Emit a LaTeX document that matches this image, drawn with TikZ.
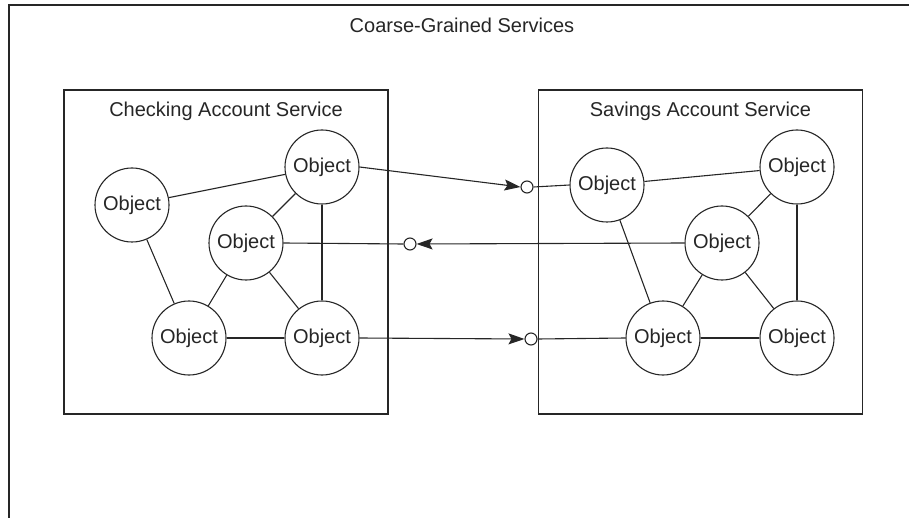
\documentclass[tikz,border=0pt]{standalone}
\usepackage{fontspec}
\setmainfont{Liberation Sans}
\usepackage{tikz}
\usetikzlibrary{arrows.meta,positioning,calc}

\definecolor{ink}{HTML}{262626}

\tikzset{
	obj/.style={circle, draw=ink, line width=1.1pt, minimum size=74pt, inner sep=0pt, text=ink},
	port/.style={circle, draw=ink, line width=1.1pt, fill=white, minimum size=12pt, inner sep=0pt},
	svcbox/.style={draw=ink, line width=1.1pt, minimum width=324pt, minimum height=324pt},
	lbl/.style={text=ink, inner sep=0pt},
	link/.style={draw=ink, line width=1.1pt},
	call/.style={link, -{Stealth[length=16pt,width=11pt,inset=3pt]}}
}

\begin{document}
\begin{tikzpicture}[x=1pt, y=-1pt, font=\fontsize{20}{24}\selectfont]
		\useasboundingbox (0,0) rectangle (909,518);

		% outer frame, cut off at the right and at the bottom
		\draw[ink, line width=1.2pt] (915,5) -- (9,5) -- (9,525);
		\node[lbl] (title) at (462,25) {Coarse-Grained Services};

		% the two services
		\node[svcbox] (chk) at (226,252) {};
		\node[svcbox] (sav) at (700.5,252) {};
		\node[lbl] (chk-t) at (226,111) {Checking Account Service};
		\node[lbl] (sav-t) at (700.5,111) {Savings Account Service};

		% objects inside the checking service
		\node[obj] (c-tr) at (322,167) {Object};
		\node[obj] (c-l)  at (132,205) {Object};
		\node[obj] (c-m)  at (246,243) {Object};
		\node[obj] (c-bl) at (189,338) {Object};
		\node[obj] (c-br) at (322,338) {Object};

		% objects inside the savings service
		\node[obj] (s-l)  at (607,185) {Object};
		\node[obj] (s-tr) at (797,167) {Object};
		\node[obj] (s-m)  at (722,243) {Object};
		\node[obj] (s-bl) at (663,338) {Object};
		\node[obj] (s-br) at (797,338) {Object};

		% service interfaces
		\node[port] (p1) at (527,187) {};
		\node[port] (p2) at (410,244) {};
		\node[port] (p3) at (531,339) {};

		\draw[link] (c-l)--(c-tr);
		\draw[link] (c-tr)--(c-m);
		\draw[link] (c-tr)--(c-br);
		\draw[link] (c-l)--(c-bl);
		\draw[link] (c-m)--(c-bl);
		\draw[link] (c-m)--(c-br);
		\draw[link] (c-bl)--(c-br);

		\draw[link] (s-l)--(s-tr);
		\draw[link] (s-l)--(s-bl);
		\draw[link] (s-tr)--(s-m);
		\draw[link] (s-tr)--(s-br);
		\draw[link] (s-m)--(s-bl);
		\draw[link] (s-m)--(s-br);
		\draw[link] (s-bl)--(s-br);

		\draw[call] (c-tr.east)--(p1.west);
		\draw[link] (p1.east)--(s-l.west);
		\draw[call] (s-m.west)--(p2.east);
		\draw[link] (p2.west)--(c-m.east);
		\draw[call] (c-br.east)--(p3.west);
		\draw[link] (p3.east)--(s-bl.west);
	\end{tikzpicture}
\end{document}
